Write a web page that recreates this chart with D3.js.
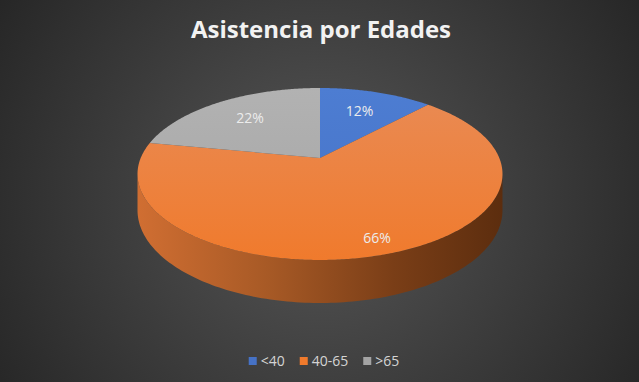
<!DOCTYPE html>
<html><head><meta charset="utf-8">
<script src="https://cdn.jsdelivr.net/npm/d3@7"></script>
<style>html,body{margin:0;padding:0;background:#2a2a2a;}svg{display:block;}</style>
</head><body>
<svg id="c" width="639" height="382"></svg>
<script>
const categories = ["<40", "40-65", ">65"];
const values = [12, 66, 22];
const labels = ["12%", "66%", "22%"];
const title = "Asistencia por Edades";

const W = 639, H = 382;
const svg = d3.select("#c");
const defs = svg.append("defs");

// background
const bg = defs.append("radialGradient").attr("id","bg").attr("gradientUnits","userSpaceOnUse")
  .attr("cx",320).attr("cy",200).attr("r",390);
bg.append("stop").attr("offset",0).attr("stop-color","#565656");
bg.append("stop").attr("offset",1).attr("stop-color","#252525");
svg.append("rect").attr("width",W).attr("height",H).attr("fill","url(#bg)");

// geometry (perspective pie)
const cx = 320, cy = 158, A = 179.3, B = 83, k = 0.186, depth = 35;
function proj(phi, r, drop) {
  const w = 1 + k * r * Math.cos(phi);
  return [cx + A * r * Math.sin(phi) / w, cy - B * r * Math.cos(phi) / w + (drop || 0) / w];
}

const colors = {
  "<40": ["#4d7dd2", "#4672c6"],
  "40-65": ["#e98b55", "#f07a2c"],
  ">65": ["#b2b2b2", "#a4a4a4"]
};
categories.forEach((c, i) => {
  const g = defs.append("linearGradient").attr("id","g"+i).attr("gradientUnits","userSpaceOnUse")
    .attr("x1",0).attr("y1",88).attr("x2",0).attr("y2",262);
  g.append("stop").attr("offset",0).attr("stop-color",colors[c][0]);
  g.append("stop").attr("offset",1).attr("stop-color",colors[c][1]);
});
const sg = defs.append("linearGradient").attr("id","side").attr("gradientUnits","userSpaceOnUse")
  .attr("x1",138).attr("y1",0).attr("x2",503).attr("y2",0);
sg.append("stop").attr("offset",0).attr("stop-color","#d06e32");
sg.append("stop").attr("offset",0.35).attr("stop-color","#a85a26");
sg.append("stop").attr("offset",0.7).attr("stop-color","#7a3e17");
sg.append("stop").attr("offset",1).attr("stop-color","#5c2d0e");

const pie = d3.pie().sort(null).value(d => d.v);
const arcs = pie(categories.map((c, i) => ({c, v: values[i], label: labels[i], i})));
const line = d3.line();

// side wall (front, visible part)
const phiR = Math.acos(-k);
arcs.forEach(a => {
  const s = Math.max(a.startAngle, phiR), e = Math.min(a.endAngle, 2*Math.PI - phiR);
  if (e <= s) return;
  const n = Math.max(2, Math.ceil((e - s) / 0.02));
  const t = d3.range(n + 1).map(j => proj(s + (e - s) * j / n, 1, 0));
  const b = d3.range(n + 1).map(j => proj(s + (e - s) * j / n, 1, depth)).reverse();
  svg.append("path").attr("d", line(t.concat(b)) + "Z")
    .attr("fill", a.data.c === "40-65" ? "url(#side)" : d3.color(colors[a.data.c][1]).darker(1.2));
});

// top faces
arcs.forEach(a => {
  const n = Math.max(4, Math.ceil((a.endAngle - a.startAngle) / 0.01));
  const pts = [[cx, cy]].concat(d3.range(n + 1).map(j => proj(a.startAngle + (a.endAngle - a.startAngle) * j / n, 1, 0)));
  svg.append("path").attr("d", line(pts) + "Z").attr("fill", "url(#g" + a.data.i + ")");
});

// labels
arcs.forEach(a => {
  const mid = (a.startAngle + a.endAngle) / 2;
  const r = a.data.v > 50 ? 0.87 : 0.67;
  const p = proj(mid, r, 0);
  svg.append("text").attr("x", p[0]).attr("y", p[1]).attr("dy", "0.3em")
    .attr("text-anchor", "middle").attr("font-family", "'Open Sans', sans-serif")
    .attr("font-size", 14).attr("fill", "#ececec").text(a.data.label);
});

// title
svg.append("text").attr("x", 321).attr("y", 38).attr("text-anchor", "middle")
  .attr("font-family", "'Open Sans', sans-serif").attr("font-weight", "bold")
  .attr("font-size", 24).attr("fill", "#f2f2f2").text(title);

// legend
const lg = svg.append("g");
let x = 0;
categories.forEach((c, i) => {
  const it = lg.append("g").attr("transform", `translate(${x},0)`);
  it.append("rect").attr("x", 0).attr("y", -9).attr("width", 8).attr("height", 8).attr("fill", colors[c][1]);
  const t = it.append("text").attr("x", 12).attr("y", 0).attr("font-family", "'Open Sans', sans-serif")
    .attr("font-size", 14).attr("fill", "#d4d4d4").text(c);
  x += 12 + t.node().getComputedTextLength() + 15;
});
const lw = x - 15;
lg.attr("transform", `translate(${324 - lw / 2},366)`);
</script>
</body></html>
